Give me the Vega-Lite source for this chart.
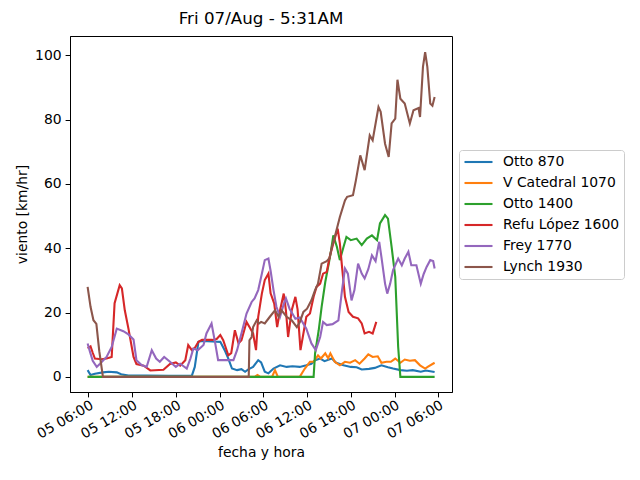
{
  "$schema": "https://vega.github.io/schema/vega-lite/v6.json",
  "width": 382,
  "height": 356,
  "autosize": {"type": "none"},
  "padding": {"left": 70, "top": 36, "right": 188, "bottom": 88},
  "title": {"text": "Fri 07/Aug - 5:31AM", "fontSize": 16.7, "fontWeight": "normal", "color": "black", "anchor": "middle", "offset": 8},
  "data": {
    "values": [
      {"s": "Otto 870", "t": "2020-08-05T05:54", "v": 2.1},
      {"s": "Otto 870", "t": "2020-08-05T06:18", "v": 0.6},
      {"s": "Otto 870", "t": "2020-08-05T06:54", "v": 1.0},
      {"s": "Otto 870", "t": "2020-08-05T08:00", "v": 1.4},
      {"s": "Otto 870", "t": "2020-08-05T08:48", "v": 1.6},
      {"s": "Otto 870", "t": "2020-08-05T09:54", "v": 1.4},
      {"s": "Otto 870", "t": "2020-08-05T10:30", "v": 0.8},
      {"s": "Otto 870", "t": "2020-08-05T11:30", "v": 0.4},
      {"s": "Otto 870", "t": "2020-08-05T14:00", "v": 0.4},
      {"s": "Otto 870", "t": "2020-08-05T17:00", "v": 0.3},
      {"s": "Otto 870", "t": "2020-08-05T20:12", "v": 0.4},
      {"s": "Otto 870", "t": "2020-08-05T20:36", "v": 3.1},
      {"s": "Otto 870", "t": "2020-08-05T21:06", "v": 10.9},
      {"s": "Otto 870", "t": "2020-08-05T21:36", "v": 11.2},
      {"s": "Otto 870", "t": "2020-08-05T23:00", "v": 11.0},
      {"s": "Otto 870", "t": "2020-08-06T00:06", "v": 10.9},
      {"s": "Otto 870", "t": "2020-08-06T00:42", "v": 8.3},
      {"s": "Otto 870", "t": "2020-08-06T01:12", "v": 5.7},
      {"s": "Otto 870", "t": "2020-08-06T01:42", "v": 2.6},
      {"s": "Otto 870", "t": "2020-08-06T02:24", "v": 2.1},
      {"s": "Otto 870", "t": "2020-08-06T03:00", "v": 2.4},
      {"s": "Otto 870", "t": "2020-08-06T03:30", "v": 1.6},
      {"s": "Otto 870", "t": "2020-08-06T04:00", "v": 2.4},
      {"s": "Otto 870", "t": "2020-08-06T04:36", "v": 3.1},
      {"s": "Otto 870", "t": "2020-08-06T05:18", "v": 5.2},
      {"s": "Otto 870", "t": "2020-08-06T05:42", "v": 4.5},
      {"s": "Otto 870", "t": "2020-08-06T06:12", "v": 1.6},
      {"s": "Otto 870", "t": "2020-08-06T06:42", "v": 1.1},
      {"s": "Otto 870", "t": "2020-08-06T07:24", "v": 2.6},
      {"s": "Otto 870", "t": "2020-08-06T08:18", "v": 3.6},
      {"s": "Otto 870", "t": "2020-08-06T09:12", "v": 3.1},
      {"s": "Otto 870", "t": "2020-08-06T10:00", "v": 3.3},
      {"s": "Otto 870", "t": "2020-08-06T11:00", "v": 3.1},
      {"s": "Otto 870", "t": "2020-08-06T11:54", "v": 3.6},
      {"s": "Otto 870", "t": "2020-08-06T12:36", "v": 4.1},
      {"s": "Otto 870", "t": "2020-08-06T13:06", "v": 5.2},
      {"s": "Otto 870", "t": "2020-08-06T13:48", "v": 5.7},
      {"s": "Otto 870", "t": "2020-08-06T14:24", "v": 4.9},
      {"s": "Otto 870", "t": "2020-08-06T15:24", "v": 5.7},
      {"s": "Otto 870", "t": "2020-08-06T16:00", "v": 4.4},
      {"s": "Otto 870", "t": "2020-08-06T17:00", "v": 3.6},
      {"s": "Otto 870", "t": "2020-08-06T18:00", "v": 3.1},
      {"s": "Otto 870", "t": "2020-08-06T18:48", "v": 3.0},
      {"s": "Otto 870", "t": "2020-08-06T19:30", "v": 2.3},
      {"s": "Otto 870", "t": "2020-08-06T20:30", "v": 2.5},
      {"s": "Otto 870", "t": "2020-08-06T21:18", "v": 2.8},
      {"s": "Otto 870", "t": "2020-08-06T22:12", "v": 3.6},
      {"s": "Otto 870", "t": "2020-08-06T23:06", "v": 3.0},
      {"s": "Otto 870", "t": "2020-08-06T23:48", "v": 2.6},
      {"s": "Otto 870", "t": "2020-08-07T00:48", "v": 2.1},
      {"s": "Otto 870", "t": "2020-08-07T01:42", "v": 1.9},
      {"s": "Otto 870", "t": "2020-08-07T02:30", "v": 2.1},
      {"s": "Otto 870", "t": "2020-08-07T03:36", "v": 1.6},
      {"s": "Otto 870", "t": "2020-08-07T04:18", "v": 2.0},
      {"s": "Otto 870", "t": "2020-08-07T05:30", "v": 1.5},
      {"s": "V Catedral 1070", "t": "2020-08-05T05:54", "v": 0},
      {"s": "V Catedral 1070", "t": "2020-08-06T04:48", "v": 0},
      {"s": "V Catedral 1070", "t": "2020-08-06T05:12", "v": 0.6},
      {"s": "V Catedral 1070", "t": "2020-08-06T05:36", "v": 0},
      {"s": "V Catedral 1070", "t": "2020-08-06T07:12", "v": 0},
      {"s": "V Catedral 1070", "t": "2020-08-06T07:36", "v": 2.1},
      {"s": "V Catedral 1070", "t": "2020-08-06T08:00", "v": 0},
      {"s": "V Catedral 1070", "t": "2020-08-06T11:00", "v": 0},
      {"s": "V Catedral 1070", "t": "2020-08-06T11:24", "v": 1.5},
      {"s": "V Catedral 1070", "t": "2020-08-06T11:42", "v": 2.6},
      {"s": "V Catedral 1070", "t": "2020-08-06T12:24", "v": 4.7},
      {"s": "V Catedral 1070", "t": "2020-08-06T12:54", "v": 4.7},
      {"s": "V Catedral 1070", "t": "2020-08-06T13:30", "v": 6.7},
      {"s": "V Catedral 1070", "t": "2020-08-06T13:54", "v": 5.7},
      {"s": "V Catedral 1070", "t": "2020-08-06T14:30", "v": 7.3},
      {"s": "V Catedral 1070", "t": "2020-08-06T14:54", "v": 5.8},
      {"s": "V Catedral 1070", "t": "2020-08-06T15:12", "v": 7.3},
      {"s": "V Catedral 1070", "t": "2020-08-06T15:48", "v": 4.7},
      {"s": "V Catedral 1070", "t": "2020-08-06T16:30", "v": 3.6},
      {"s": "V Catedral 1070", "t": "2020-08-06T17:12", "v": 4.7},
      {"s": "V Catedral 1070", "t": "2020-08-06T17:54", "v": 4.4},
      {"s": "V Catedral 1070", "t": "2020-08-06T18:36", "v": 5.2},
      {"s": "V Catedral 1070", "t": "2020-08-06T19:12", "v": 4.1},
      {"s": "V Catedral 1070", "t": "2020-08-06T19:54", "v": 5.7},
      {"s": "V Catedral 1070", "t": "2020-08-06T20:24", "v": 7.0},
      {"s": "V Catedral 1070", "t": "2020-08-06T21:00", "v": 6.2},
      {"s": "V Catedral 1070", "t": "2020-08-06T21:42", "v": 6.4},
      {"s": "V Catedral 1070", "t": "2020-08-06T22:12", "v": 4.4},
      {"s": "V Catedral 1070", "t": "2020-08-06T22:54", "v": 4.7},
      {"s": "V Catedral 1070", "t": "2020-08-06T23:30", "v": 4.7},
      {"s": "V Catedral 1070", "t": "2020-08-07T00:06", "v": 5.7},
      {"s": "V Catedral 1070", "t": "2020-08-07T00:48", "v": 4.4},
      {"s": "V Catedral 1070", "t": "2020-08-07T01:24", "v": 5.4},
      {"s": "V Catedral 1070", "t": "2020-08-07T02:06", "v": 5.0},
      {"s": "V Catedral 1070", "t": "2020-08-07T02:48", "v": 5.2},
      {"s": "V Catedral 1070", "t": "2020-08-07T03:30", "v": 3.6},
      {"s": "V Catedral 1070", "t": "2020-08-07T04:12", "v": 2.6},
      {"s": "V Catedral 1070", "t": "2020-08-07T04:36", "v": 3.2},
      {"s": "V Catedral 1070", "t": "2020-08-07T05:30", "v": 4.4},
      {"s": "Otto 1400", "t": "2020-08-05T05:54", "v": 0},
      {"s": "Otto 1400", "t": "2020-08-06T12:54", "v": 0},
      {"s": "Otto 1400", "t": "2020-08-06T13:06", "v": 7.3},
      {"s": "Otto 1400", "t": "2020-08-06T13:36", "v": 14.5},
      {"s": "Otto 1400", "t": "2020-08-06T14:00", "v": 21.8},
      {"s": "Otto 1400", "t": "2020-08-06T14:30", "v": 29.5},
      {"s": "Otto 1400", "t": "2020-08-06T15:00", "v": 35.5},
      {"s": "Otto 1400", "t": "2020-08-06T15:18", "v": 39.4},
      {"s": "Otto 1400", "t": "2020-08-06T15:36", "v": 44.0},
      {"s": "Otto 1400", "t": "2020-08-06T16:06", "v": 40.4},
      {"s": "Otto 1400", "t": "2020-08-06T16:30", "v": 36.3},
      {"s": "Otto 1400", "t": "2020-08-06T17:00", "v": 40.4},
      {"s": "Otto 1400", "t": "2020-08-06T17:24", "v": 43.5},
      {"s": "Otto 1400", "t": "2020-08-06T18:00", "v": 42.5},
      {"s": "Otto 1400", "t": "2020-08-06T18:48", "v": 43.0},
      {"s": "Otto 1400", "t": "2020-08-06T19:30", "v": 41.0},
      {"s": "Otto 1400", "t": "2020-08-06T20:12", "v": 43.0},
      {"s": "Otto 1400", "t": "2020-08-06T20:54", "v": 44.0},
      {"s": "Otto 1400", "t": "2020-08-06T21:36", "v": 42.5},
      {"s": "Otto 1400", "t": "2020-08-06T22:00", "v": 47.7},
      {"s": "Otto 1400", "t": "2020-08-06T22:42", "v": 50.3},
      {"s": "Otto 1400", "t": "2020-08-06T23:06", "v": 49.2},
      {"s": "Otto 1400", "t": "2020-08-06T23:36", "v": 40.4},
      {"s": "Otto 1400", "t": "2020-08-07T00:06", "v": 31.1},
      {"s": "Otto 1400", "t": "2020-08-07T00:30", "v": 9.3},
      {"s": "Otto 1400", "t": "2020-08-07T00:48", "v": 0},
      {"s": "Otto 1400", "t": "2020-08-07T05:30", "v": 0},
      {"s": "Refu López 1600", "t": "2020-08-05T05:54", "v": 8.9},
      {"s": "Refu López 1600", "t": "2020-08-05T06:18", "v": 9.5},
      {"s": "Refu López 1600", "t": "2020-08-05T06:36", "v": 7.5},
      {"s": "Refu López 1600", "t": "2020-08-05T06:54", "v": 5.7},
      {"s": "Refu López 1600", "t": "2020-08-05T07:48", "v": 5.5},
      {"s": "Refu López 1600", "t": "2020-08-05T08:30", "v": 5.7},
      {"s": "Refu López 1600", "t": "2020-08-05T09:12", "v": 6.2},
      {"s": "Refu López 1600", "t": "2020-08-05T09:36", "v": 22.9},
      {"s": "Refu López 1600", "t": "2020-08-05T10:18", "v": 28.5},
      {"s": "Refu López 1600", "t": "2020-08-05T10:36", "v": 27.5},
      {"s": "Refu López 1600", "t": "2020-08-05T11:00", "v": 20.7},
      {"s": "Refu López 1600", "t": "2020-08-05T11:30", "v": 15.0},
      {"s": "Refu López 1600", "t": "2020-08-05T12:12", "v": 6.2},
      {"s": "Refu López 1600", "t": "2020-08-05T12:36", "v": 4.0},
      {"s": "Refu López 1600", "t": "2020-08-05T13:36", "v": 3.5},
      {"s": "Refu López 1600", "t": "2020-08-05T14:30", "v": 2.0},
      {"s": "Refu López 1600", "t": "2020-08-05T16:18", "v": 2.2},
      {"s": "Refu López 1600", "t": "2020-08-05T17:12", "v": 4.0},
      {"s": "Refu López 1600", "t": "2020-08-05T18:00", "v": 4.5},
      {"s": "Refu López 1600", "t": "2020-08-05T18:36", "v": 3.5},
      {"s": "Refu López 1600", "t": "2020-08-05T19:18", "v": 5.2},
      {"s": "Refu López 1600", "t": "2020-08-05T19:42", "v": 9.9},
      {"s": "Refu López 1600", "t": "2020-08-05T20:12", "v": 8.3},
      {"s": "Refu López 1600", "t": "2020-08-05T20:36", "v": 9.0},
      {"s": "Refu López 1600", "t": "2020-08-05T21:06", "v": 10.9},
      {"s": "Refu López 1600", "t": "2020-08-05T21:36", "v": 11.5},
      {"s": "Refu López 1600", "t": "2020-08-05T23:00", "v": 11.5},
      {"s": "Refu López 1600", "t": "2020-08-05T23:36", "v": 11.8},
      {"s": "Refu López 1600", "t": "2020-08-06T00:06", "v": 13.0},
      {"s": "Refu López 1600", "t": "2020-08-06T00:30", "v": 11.4},
      {"s": "Refu López 1600", "t": "2020-08-06T01:12", "v": 6.7},
      {"s": "Refu López 1600", "t": "2020-08-06T01:36", "v": 7.4},
      {"s": "Refu López 1600", "t": "2020-08-06T02:06", "v": 14.5},
      {"s": "Refu López 1600", "t": "2020-08-06T02:36", "v": 10.4},
      {"s": "Refu López 1600", "t": "2020-08-06T03:00", "v": 11.4},
      {"s": "Refu López 1600", "t": "2020-08-06T03:42", "v": 17.1},
      {"s": "Refu López 1600", "t": "2020-08-06T04:06", "v": 15.5},
      {"s": "Refu López 1600", "t": "2020-08-06T04:36", "v": 13.5},
      {"s": "Refu López 1600", "t": "2020-08-06T05:00", "v": 8.3},
      {"s": "Refu López 1600", "t": "2020-08-06T05:18", "v": 18.7},
      {"s": "Refu López 1600", "t": "2020-08-06T05:48", "v": 25.9},
      {"s": "Refu López 1600", "t": "2020-08-06T06:12", "v": 30.1},
      {"s": "Refu López 1600", "t": "2020-08-06T06:42", "v": 32.1},
      {"s": "Refu López 1600", "t": "2020-08-06T07:00", "v": 26.0},
      {"s": "Refu López 1600", "t": "2020-08-06T07:30", "v": 22.8},
      {"s": "Refu López 1600", "t": "2020-08-06T07:54", "v": 15.5},
      {"s": "Refu López 1600", "t": "2020-08-06T08:18", "v": 20.7},
      {"s": "Refu López 1600", "t": "2020-08-06T08:48", "v": 25.9},
      {"s": "Refu López 1600", "t": "2020-08-06T09:06", "v": 20.7},
      {"s": "Refu López 1600", "t": "2020-08-06T09:24", "v": 12.4},
      {"s": "Refu López 1600", "t": "2020-08-06T09:54", "v": 20.7},
      {"s": "Refu López 1600", "t": "2020-08-06T10:24", "v": 24.9},
      {"s": "Refu López 1600", "t": "2020-08-06T10:42", "v": 21.0},
      {"s": "Refu López 1600", "t": "2020-08-06T11:06", "v": 8.3},
      {"s": "Refu López 1600", "t": "2020-08-06T11:30", "v": 13.5},
      {"s": "Refu López 1600", "t": "2020-08-06T11:54", "v": 18.7},
      {"s": "Refu López 1600", "t": "2020-08-06T12:24", "v": 19.7},
      {"s": "Refu López 1600", "t": "2020-08-06T12:54", "v": 24.9},
      {"s": "Refu López 1600", "t": "2020-08-06T13:18", "v": 28.0},
      {"s": "Refu López 1600", "t": "2020-08-06T13:48", "v": 29.0},
      {"s": "Refu López 1600", "t": "2020-08-06T14:12", "v": 32.1},
      {"s": "Refu López 1600", "t": "2020-08-06T14:42", "v": 32.6},
      {"s": "Refu López 1600", "t": "2020-08-06T15:06", "v": 37.3},
      {"s": "Refu López 1600", "t": "2020-08-06T15:36", "v": 41.5},
      {"s": "Refu López 1600", "t": "2020-08-06T16:12", "v": 46.1},
      {"s": "Refu López 1600", "t": "2020-08-06T16:30", "v": 41.5},
      {"s": "Refu López 1600", "t": "2020-08-06T16:48", "v": 34.2},
      {"s": "Refu López 1600", "t": "2020-08-06T17:12", "v": 24.9},
      {"s": "Refu López 1600", "t": "2020-08-06T17:42", "v": 20.2},
      {"s": "Refu López 1600", "t": "2020-08-06T18:18", "v": 18.7},
      {"s": "Refu López 1600", "t": "2020-08-06T19:00", "v": 18.2},
      {"s": "Refu López 1600", "t": "2020-08-06T19:30", "v": 16.6},
      {"s": "Refu López 1600", "t": "2020-08-06T19:54", "v": 13.5},
      {"s": "Refu López 1600", "t": "2020-08-06T20:30", "v": 14.0},
      {"s": "Refu López 1600", "t": "2020-08-06T21:00", "v": 13.5},
      {"s": "Refu López 1600", "t": "2020-08-06T21:30", "v": 17.1},
      {"s": "Frey 1770", "t": "2020-08-05T05:54", "v": 10.4},
      {"s": "Frey 1770", "t": "2020-08-05T06:12", "v": 8.0},
      {"s": "Frey 1770", "t": "2020-08-05T06:36", "v": 5.0},
      {"s": "Frey 1770", "t": "2020-08-05T07:09", "v": 3.1},
      {"s": "Frey 1770", "t": "2020-08-05T07:36", "v": 4.1},
      {"s": "Frey 1770", "t": "2020-08-05T08:30", "v": 6.2},
      {"s": "Frey 1770", "t": "2020-08-05T09:12", "v": 9.3},
      {"s": "Frey 1770", "t": "2020-08-05T09:54", "v": 15.0},
      {"s": "Frey 1770", "t": "2020-08-05T10:48", "v": 14.2},
      {"s": "Frey 1770", "t": "2020-08-05T11:30", "v": 13.2},
      {"s": "Frey 1770", "t": "2020-08-05T12:12", "v": 11.6},
      {"s": "Frey 1770", "t": "2020-08-05T12:36", "v": 5.2},
      {"s": "Frey 1770", "t": "2020-08-05T13:18", "v": 3.7},
      {"s": "Frey 1770", "t": "2020-08-05T14:00", "v": 3.1},
      {"s": "Frey 1770", "t": "2020-08-05T14:42", "v": 8.3},
      {"s": "Frey 1770", "t": "2020-08-05T15:18", "v": 5.7},
      {"s": "Frey 1770", "t": "2020-08-05T15:48", "v": 4.7},
      {"s": "Frey 1770", "t": "2020-08-05T16:24", "v": 6.2},
      {"s": "Frey 1770", "t": "2020-08-05T17:12", "v": 4.7},
      {"s": "Frey 1770", "t": "2020-08-05T18:00", "v": 3.1},
      {"s": "Frey 1770", "t": "2020-08-05T18:36", "v": 4.1},
      {"s": "Frey 1770", "t": "2020-08-05T19:30", "v": 2.6},
      {"s": "Frey 1770", "t": "2020-08-05T20:00", "v": 5.7},
      {"s": "Frey 1770", "t": "2020-08-05T20:24", "v": 8.8},
      {"s": "Frey 1770", "t": "2020-08-05T21:00", "v": 8.3},
      {"s": "Frey 1770", "t": "2020-08-05T21:48", "v": 9.9},
      {"s": "Frey 1770", "t": "2020-08-05T22:12", "v": 13.5},
      {"s": "Frey 1770", "t": "2020-08-05T22:54", "v": 16.6},
      {"s": "Frey 1770", "t": "2020-08-05T23:24", "v": 10.5},
      {"s": "Frey 1770", "t": "2020-08-05T23:48", "v": 5.2},
      {"s": "Frey 1770", "t": "2020-08-06T00:42", "v": 5.2},
      {"s": "Frey 1770", "t": "2020-08-06T01:54", "v": 5.2},
      {"s": "Frey 1770", "t": "2020-08-06T02:24", "v": 8.3},
      {"s": "Frey 1770", "t": "2020-08-06T03:00", "v": 13.5},
      {"s": "Frey 1770", "t": "2020-08-06T03:42", "v": 19.7},
      {"s": "Frey 1770", "t": "2020-08-06T04:24", "v": 23.3},
      {"s": "Frey 1770", "t": "2020-08-06T04:48", "v": 24.4},
      {"s": "Frey 1770", "t": "2020-08-06T05:18", "v": 27.0},
      {"s": "Frey 1770", "t": "2020-08-06T05:48", "v": 32.1},
      {"s": "Frey 1770", "t": "2020-08-06T06:12", "v": 36.3},
      {"s": "Frey 1770", "t": "2020-08-06T06:42", "v": 36.8},
      {"s": "Frey 1770", "t": "2020-08-06T07:00", "v": 33.0},
      {"s": "Frey 1770", "t": "2020-08-06T07:24", "v": 27.0},
      {"s": "Frey 1770", "t": "2020-08-06T07:48", "v": 21.8},
      {"s": "Frey 1770", "t": "2020-08-06T08:18", "v": 18.7},
      {"s": "Frey 1770", "t": "2020-08-06T08:48", "v": 22.6},
      {"s": "Frey 1770", "t": "2020-08-06T09:06", "v": 24.4},
      {"s": "Frey 1770", "t": "2020-08-06T09:36", "v": 21.2},
      {"s": "Frey 1770", "t": "2020-08-06T10:24", "v": 18.1},
      {"s": "Frey 1770", "t": "2020-08-06T11:00", "v": 18.5},
      {"s": "Frey 1770", "t": "2020-08-06T11:54", "v": 15.0},
      {"s": "Frey 1770", "t": "2020-08-06T12:36", "v": 10.4},
      {"s": "Frey 1770", "t": "2020-08-06T13:12", "v": 8.3},
      {"s": "Frey 1770", "t": "2020-08-06T13:48", "v": 12.4},
      {"s": "Frey 1770", "t": "2020-08-06T14:12", "v": 17.1},
      {"s": "Frey 1770", "t": "2020-08-06T14:42", "v": 16.1},
      {"s": "Frey 1770", "t": "2020-08-06T15:30", "v": 16.4},
      {"s": "Frey 1770", "t": "2020-08-06T16:18", "v": 17.6},
      {"s": "Frey 1770", "t": "2020-08-06T16:48", "v": 27.0},
      {"s": "Frey 1770", "t": "2020-08-06T17:12", "v": 33.7},
      {"s": "Frey 1770", "t": "2020-08-06T17:36", "v": 32.1},
      {"s": "Frey 1770", "t": "2020-08-06T18:06", "v": 23.8},
      {"s": "Frey 1770", "t": "2020-08-06T18:30", "v": 27.0},
      {"s": "Frey 1770", "t": "2020-08-06T19:00", "v": 35.2},
      {"s": "Frey 1770", "t": "2020-08-06T19:30", "v": 32.1},
      {"s": "Frey 1770", "t": "2020-08-06T19:54", "v": 30.6},
      {"s": "Frey 1770", "t": "2020-08-06T20:24", "v": 33.5},
      {"s": "Frey 1770", "t": "2020-08-06T20:54", "v": 37.8},
      {"s": "Frey 1770", "t": "2020-08-06T21:24", "v": 36.0},
      {"s": "Frey 1770", "t": "2020-08-06T21:54", "v": 42.0},
      {"s": "Frey 1770", "t": "2020-08-06T22:12", "v": 37.3},
      {"s": "Frey 1770", "t": "2020-08-06T22:42", "v": 29.0},
      {"s": "Frey 1770", "t": "2020-08-06T23:00", "v": 25.9},
      {"s": "Frey 1770", "t": "2020-08-06T23:24", "v": 29.0},
      {"s": "Frey 1770", "t": "2020-08-06T23:48", "v": 33.2},
      {"s": "Frey 1770", "t": "2020-08-07T00:30", "v": 36.8},
      {"s": "Frey 1770", "t": "2020-08-07T01:00", "v": 34.7},
      {"s": "Frey 1770", "t": "2020-08-07T01:24", "v": 36.8},
      {"s": "Frey 1770", "t": "2020-08-07T01:54", "v": 38.9},
      {"s": "Frey 1770", "t": "2020-08-07T02:18", "v": 34.7},
      {"s": "Frey 1770", "t": "2020-08-07T03:00", "v": 34.7},
      {"s": "Frey 1770", "t": "2020-08-07T03:36", "v": 29.0},
      {"s": "Frey 1770", "t": "2020-08-07T04:00", "v": 32.0},
      {"s": "Frey 1770", "t": "2020-08-07T04:24", "v": 34.2},
      {"s": "Frey 1770", "t": "2020-08-07T04:54", "v": 36.3},
      {"s": "Frey 1770", "t": "2020-08-07T05:18", "v": 36.0},
      {"s": "Frey 1770", "t": "2020-08-07T05:30", "v": 33.7},
      {"s": "Lynch 1930", "t": "2020-08-05T05:54", "v": 28.0},
      {"s": "Lynch 1930", "t": "2020-08-05T06:18", "v": 21.8},
      {"s": "Lynch 1930", "t": "2020-08-05T06:42", "v": 17.6},
      {"s": "Lynch 1930", "t": "2020-08-05T07:06", "v": 16.5},
      {"s": "Lynch 1930", "t": "2020-08-05T07:30", "v": 8.0},
      {"s": "Lynch 1930", "t": "2020-08-05T08:00", "v": 0},
      {"s": "Lynch 1930", "t": "2020-08-06T04:00", "v": 0},
      {"s": "Lynch 1930", "t": "2020-08-06T04:06", "v": 11.4},
      {"s": "Lynch 1930", "t": "2020-08-06T04:24", "v": 12.4},
      {"s": "Lynch 1930", "t": "2020-08-06T04:36", "v": 15.5},
      {"s": "Lynch 1930", "t": "2020-08-06T05:06", "v": 17.6},
      {"s": "Lynch 1930", "t": "2020-08-06T05:24", "v": 16.6},
      {"s": "Lynch 1930", "t": "2020-08-06T05:42", "v": 17.1},
      {"s": "Lynch 1930", "t": "2020-08-06T06:12", "v": 16.6},
      {"s": "Lynch 1930", "t": "2020-08-06T06:54", "v": 18.7},
      {"s": "Lynch 1930", "t": "2020-08-06T07:36", "v": 20.7},
      {"s": "Lynch 1930", "t": "2020-08-06T08:06", "v": 18.7},
      {"s": "Lynch 1930", "t": "2020-08-06T08:30", "v": 20.7},
      {"s": "Lynch 1930", "t": "2020-08-06T09:12", "v": 18.7},
      {"s": "Lynch 1930", "t": "2020-08-06T09:54", "v": 17.6},
      {"s": "Lynch 1930", "t": "2020-08-06T10:36", "v": 15.5},
      {"s": "Lynch 1930", "t": "2020-08-06T11:00", "v": 17.0},
      {"s": "Lynch 1930", "t": "2020-08-06T11:30", "v": 20.2},
      {"s": "Lynch 1930", "t": "2020-08-06T12:00", "v": 21.2},
      {"s": "Lynch 1930", "t": "2020-08-06T12:36", "v": 23.8},
      {"s": "Lynch 1930", "t": "2020-08-06T13:06", "v": 27.0},
      {"s": "Lynch 1930", "t": "2020-08-06T13:30", "v": 29.0},
      {"s": "Lynch 1930", "t": "2020-08-06T14:00", "v": 35.2},
      {"s": "Lynch 1930", "t": "2020-08-06T14:42", "v": 36.0},
      {"s": "Lynch 1930", "t": "2020-08-06T15:06", "v": 37.0},
      {"s": "Lynch 1930", "t": "2020-08-06T15:24", "v": 40.4},
      {"s": "Lynch 1930", "t": "2020-08-06T15:48", "v": 43.5},
      {"s": "Lynch 1930", "t": "2020-08-06T16:30", "v": 49.7},
      {"s": "Lynch 1930", "t": "2020-08-06T17:12", "v": 54.9},
      {"s": "Lynch 1930", "t": "2020-08-06T17:30", "v": 56.0},
      {"s": "Lynch 1930", "t": "2020-08-06T18:18", "v": 56.5},
      {"s": "Lynch 1930", "t": "2020-08-06T18:42", "v": 61.1},
      {"s": "Lynch 1930", "t": "2020-08-06T19:18", "v": 68.9},
      {"s": "Lynch 1930", "t": "2020-08-06T19:54", "v": 64.3},
      {"s": "Lynch 1930", "t": "2020-08-06T20:36", "v": 75.1},
      {"s": "Lynch 1930", "t": "2020-08-06T21:00", "v": 73.6},
      {"s": "Lynch 1930", "t": "2020-08-06T21:48", "v": 83.9},
      {"s": "Lynch 1930", "t": "2020-08-06T22:06", "v": 82.4},
      {"s": "Lynch 1930", "t": "2020-08-06T22:42", "v": 72.5},
      {"s": "Lynch 1930", "t": "2020-08-06T23:12", "v": 68.4},
      {"s": "Lynch 1930", "t": "2020-08-06T23:36", "v": 78.8},
      {"s": "Lynch 1930", "t": "2020-08-07T00:06", "v": 80.3},
      {"s": "Lynch 1930", "t": "2020-08-07T00:24", "v": 92.4},
      {"s": "Lynch 1930", "t": "2020-08-07T00:48", "v": 86.5},
      {"s": "Lynch 1930", "t": "2020-08-07T01:24", "v": 85.0},
      {"s": "Lynch 1930", "t": "2020-08-07T02:06", "v": 78.8},
      {"s": "Lynch 1930", "t": "2020-08-07T02:36", "v": 82.9},
      {"s": "Lynch 1930", "t": "2020-08-07T03:18", "v": 83.6},
      {"s": "Lynch 1930", "t": "2020-08-07T03:30", "v": 80.8},
      {"s": "Lynch 1930", "t": "2020-08-07T03:54", "v": 96.4},
      {"s": "Lynch 1930", "t": "2020-08-07T04:12", "v": 101.0},
      {"s": "Lynch 1930", "t": "2020-08-07T04:30", "v": 96.4},
      {"s": "Lynch 1930", "t": "2020-08-07T04:54", "v": 85.0},
      {"s": "Lynch 1930", "t": "2020-08-07T05:12", "v": 84.3},
      {"s": "Lynch 1930", "t": "2020-08-07T05:30", "v": 87.0}
    ]
  },
  "mark": {"type": "line", "strokeWidth": 2.1, "clip": true},
  "encoding": {
    "x": {
      "field": "t",
      "type": "temporal",
      "title": "fecha y hora",
      "scale": {
        "domain": [
          {"year": 2020, "month": 8, "date": 5, "hours": 3, "minutes": 29},
          {"year": 2020, "month": 8, "date": 7, "hours": 7, "minutes": 53}
        ]
      },
      "axis": {
        "format": "%d %H:%M",
        "values": [
          {"year": 2020, "month": 8, "date": 5, "hours": 6},
          {"year": 2020, "month": 8, "date": 5, "hours": 12},
          {"year": 2020, "month": 8, "date": 5, "hours": 18},
          {"year": 2020, "month": 8, "date": 6, "hours": 0},
          {"year": 2020, "month": 8, "date": 6, "hours": 6},
          {"year": 2020, "month": 8, "date": 6, "hours": 12},
          {"year": 2020, "month": 8, "date": 6, "hours": 18},
          {"year": 2020, "month": 8, "date": 7, "hours": 0},
          {"year": 2020, "month": 8, "date": 7, "hours": 6}
        ],
        "labelAngle": -30,
        "labelAlign": "right",
        "labelBaseline": "top",
        "labelDx": -8,
        "labelDy": -1,
        "labelPadding": 1,
        "labelFlush": false,
        "labelOverlap": false,
        "titlePadding": 5
      }
    },
    "y": {
      "field": "v",
      "type": "quantitative",
      "title": "viento [km/hr]",
      "scale": {"domain": [-4.7, 106], "nice": false, "zero": false},
      "axis": {"values": [0, 20, 40, 60, 80, 100], "titlePadding": 5}
    },
    "color": {
      "field": "s",
      "type": "nominal",
      "scale": {
        "domain": ["Otto 870", "V Catedral 1070", "Otto 1400", "Refu López 1600", "Frey 1770", "Lynch 1930"],
        "range": ["#1f77b4", "#ff7f0e", "#2ca02c", "#d62728", "#9467bd", "#8c564b"]
      },
      "legend": {
        "title": null,
        "orient": "none",
        "legendX": 389,
        "legendY": 114,
        "symbolType": "stroke",
        "symbolSize": 784,
        "symbolStrokeWidth": 2.1,
        "labelFontSize": 13.9,
        "labelOffset": 9,
        "padding": 4,
        "strokeColor": "#cccccc",
        "fillColor": "white",
        "cornerRadius": 3,
        "rowPadding": 5,
        "clipHeight": 16
      }
    }
  },
  "config": {
    "font": "DejaVu Sans",
    "view": {"stroke": "black", "strokeWidth": 1},
    "axis": {
      "grid": false,
      "domainColor": "black",
      "tickColor": "black",
      "labelColor": "black",
      "titleColor": "black",
      "labelFontSize": 13.9,
      "titleFontSize": 13.9,
      "titleFontWeight": "normal",
      "tickSize": 4.9,
      "labelPadding": 4
    },
    "legend": {"labelColor": "black"}
  }
}
